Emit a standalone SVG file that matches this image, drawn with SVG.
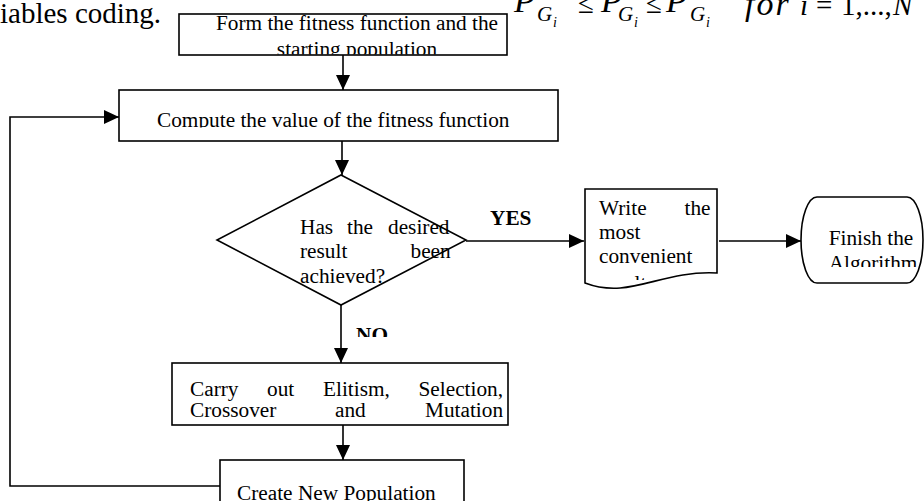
<svg xmlns="http://www.w3.org/2000/svg" width="924" height="501" viewBox="0 0 924 501">
<style>
.shape{fill:#fff;stroke:#000;stroke-width:1.6}
.conn{fill:none;stroke:#000;stroke-width:1.6}
.t{font-family:"Liberation Serif","Times New Roman",serif;font-size:21.3px;fill:#000}
.b{font-weight:bold}
.page{font-family:"Liberation Serif","Times New Roman",serif;font-size:29px;fill:#000}
.it{font-style:italic}
.sub{font-size:21px}
.sub2{font-size:14px}
.big{font-size:34px}
</style>
<defs>
<marker id="ah" viewBox="0 0 15 14" refX="15" refY="7" markerWidth="15" markerHeight="14" markerUnits="userSpaceOnUse" orient="auto">
<path d="M0,0 L15,7 L0,14 Z" fill="#000"/>
</marker>
<clipPath id="c1"><rect x="180" y="15" width="327" height="39.5"/></clipPath>
<clipPath id="c2"><rect x="120" y="91" width="437" height="36.5"/></clipPath>
<clipPath id="cno"><rect x="340" y="310" width="80" height="27"/></clipPath>
<clipPath id="cdoc"><rect x="588" y="191" width="127" height="89"/></clipPath>
<clipPath id="cfin"><rect x="805" y="199" width="116" height="68"/></clipPath>
</defs>

<g id="page-text">
<text class="page" x="0" y="23">iables coding.</text>
<text class="page it big" x="514" y="12">P</text>
<text class="page it sub" x="537" y="21">G</text>
<text class="page it sub2" x="553" y="27">i</text>
<text class="page" x="578" y="13">≤</text>
<text class="page it big" x="601" y="12">P</text>
<text class="page it sub" x="618" y="21">G</text>
<text class="page it sub2" x="634" y="27">i</text>
<text class="page" x="646" y="13">≤</text>
<text class="page it big" x="666" y="12">P</text>
<text class="page it sub" x="690" y="21">G</text>
<text class="page it sub2" x="706" y="27">i</text>
<text class="page it big" x="745" y="15" letter-spacing="2">for</text>
<text class="page it" x="800" y="15">i</text>
<text class="page" x="816" y="15">=</text>
<text class="page" x="841" y="15">1,...,</text>
<text class="page it" x="893" y="15">N</text>
</g>

<g id="connectors">
<path class="conn" d="M343,55 V90" marker-end="url(#ah)"/>
<path class="conn" d="M342,141 V175" marker-end="url(#ah)"/>
<path class="conn" d="M466,241 H584" marker-end="url(#ah)"/>
<path class="conn" d="M719,241 H801" marker-end="url(#ah)"/>
<path class="conn" d="M341,305 V363" marker-end="url(#ah)"/>
<path class="conn" d="M343,425 V460" marker-end="url(#ah)"/>
<path class="conn" d="M220,486 H10 V117 H119" marker-end="url(#ah)"/>
</g>

<g id="node-form">
<rect class="shape" x="179" y="14" width="328" height="41"/>
<g clip-path="url(#c1)">
<text class="t" x="357" y="30" text-anchor="middle">Form the fitness function and the</text>
<text class="t" x="357" y="56" text-anchor="middle">starting population</text>
</g>
</g>

<g id="node-compute">
<rect class="shape" x="119" y="90" width="439" height="51"/>
<g clip-path="url(#c2)">
<text class="t" x="157" y="127">Compute the value of the fitness function</text>
</g>
</g>

<g id="node-decision">
<path class="shape" d="M341,175 L466,240 L341,305 L217,240 Z"/>
<text class="t" x="300" y="234">Has</text>
<text class="t" x="347" y="234">the</text>
<text class="t" x="388" y="234">desired</text>
<text class="t" x="300" y="258">result</text>
<text class="t" x="410.5" y="258">been</text>
<text class="t" x="300" y="283">achieved?</text>
</g>

<g id="label-yes">
<text class="t b" x="490" y="225">YES</text>
</g>
<g id="label-no">
<text class="t b" x="356" y="342" clip-path="url(#cno)">NO</text>
</g>

<g id="node-write">
<path class="shape" d="M585,189 H717 V273 C660,270 630,300 585,283 Z"/>
<g clip-path="url(#cdoc)">
<text class="t" x="599" y="215">Write</text>
<text class="t" x="684.5" y="215">the</text>
<text class="t" x="599" y="239">most</text>
<text class="t" x="599" y="263">convenient</text>
<text class="t" x="599" y="290">result</text>
</g>
</g>

<g id="node-finish">
<path class="shape" d="M817,197 H907 A16,43 0 0 1 907,283 H817 A16,43 0 0 1 817,197 Z"/>
<g clip-path="url(#cfin)">
<text class="t" x="871" y="245" text-anchor="middle">Finish the</text>
<text class="t" x="873" y="270" text-anchor="middle">Algorithm</text>
</g>
</g>

<g id="node-operators">
<rect class="shape" x="172" y="363" width="336" height="62"/>
<text class="t" x="190" y="396">Carry</text>
<text class="t" x="267" y="396">out</text>
<text class="t" x="323" y="396">Elitism,</text>
<text class="t" x="418.5" y="396">Selection,</text>
<text class="t" x="190" y="417">Crossover</text>
<text class="t" x="335" y="417">and</text>
<text class="t" x="425" y="417">Mutation</text>
</g>

<g id="node-create">
<rect class="shape" x="220" y="460" width="244" height="60"/>
<text class="t" x="237" y="500">Create New Population</text>
</g>
</svg>
